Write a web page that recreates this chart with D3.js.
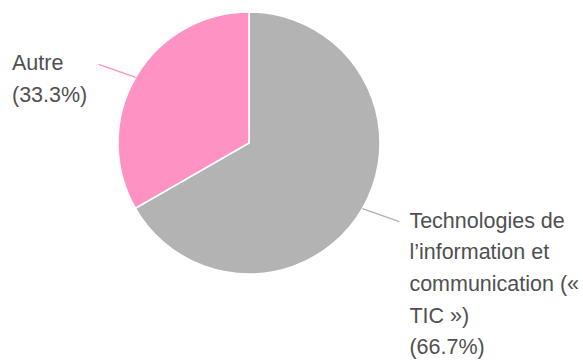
<!DOCTYPE html>
<html>
<head>
  <meta charset="utf-8">
  <title>TIC</title>
  <style>
    body { margin: 0; background: #fff; }
    svg { display: block; font-family: Arial, "Liberation Sans", sans-serif; }
  </style>
</head>
<body>
<svg width="583" height="364" class="svg-pie"></svg>
<script src="https://cdnjs.cloudflare.com/ajax/libs/d3/7.8.5/d3.min.js"></script>
<script type="text/javascript">
  // chart data
  var categories = ['Technologies de l\u2019information et communication (\u00ab TIC \u00bb)', 'Autre']
  var values = [66.7, 33.3]
  var colors = ['#b3b3b3', '#fe93c3']

  var svg = d3.select('.svg-pie')
  var width = +svg.attr('width')
  var cx = 249, cy = 143, radius = 131
  var fontSize = 21.5, lineHeight = 31.7
  var leftMargin = 12

  var data = categories.map(function(c, i){
    return {name: c, value: values[i], color: colors[i]}
  })

  var pie = d3.pie()
      .sort(null)
      .value(function(d){ return d.value })

  var arc = d3.arc()
      .innerRadius(0)
      .outerRadius(radius)

  var g = svg.append('g')
      .attr('transform', 'translate(' + cx + ',' + cy + ')')

  var arcs = pie(data)

  g.selectAll('path')
    .data(arcs)
    .enter()
    .append('path')
    .attr('d', arc)
    .attr('fill', function(d){ return d.data.color })
    .attr('stroke', '#fff')
    .attr('stroke-width', 1.5)

  // measure helper
  var measure = svg.append('text').attr('font-size', fontSize).attr('visibility', 'hidden')
  function textWidth(s){
    measure.text(s)
    return measure.node().getComputedTextLength()
  }

  function wrap(s, maxW){
    var words = s.split(' '), lines = [], cur = ''
    words.forEach(function(w){
      var test = cur ? cur + ' ' + w : w
      if (cur && textWidth(test) > maxW) {
        lines.push(cur)
        cur = w
      } else {
        cur = test
      }
    })
    if (cur) lines.push(cur)
    return lines
  }

  arcs.forEach(function(d){
    var mid = (d.startAngle + d.endAngle) / 2
    var sx = Math.sin(mid), sy = -Math.cos(mid)
    var x0 = cx + radius * sx, y0 = cy + radius * sy
    var dirX = sx < 0 ? -1 : 1, dirY = sy < 0 ? -1 : 1
    var x1 = x0 + dirX * 37, y1 = y0 + dirY * 13

    svg.append('line')
      .attr('x1', x0).attr('y1', y0)
      .attr('x2', x1).attr('y2', y1)
      .attr('stroke', d.data.color)
      .attr('stroke-width', 1.5)

    var pct = '(' + d.data.value.toFixed(1) + '%)'
    var lines, tx
    if (dirX > 0) {
      tx = x1 + 10
      lines = wrap(d.data.name, width - tx)
    } else {
      tx = leftMargin
      lines = wrap(d.data.name, x1 - tx)
    }
    lines.push(pct)

    var text = svg.append('text')
      .attr('font-size', fontSize)
      .attr('fill', '#505050')

    lines.forEach(function(l, i){
      text.append('tspan')
        .attr('x', tx)
        .attr('y', y1 + 6 + i * lineHeight)
        .text(l)
    })
  })

  measure.remove()
</script>
</body>
</html>
